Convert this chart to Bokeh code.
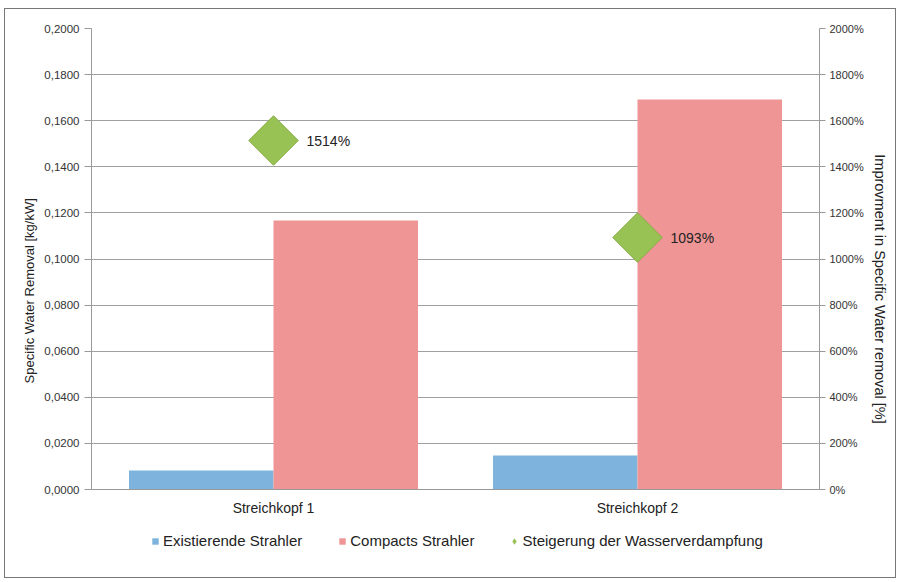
from bokeh.plotting import figure
from bokeh.models import (Range1d, LinearAxis, FixedTicker, CustomJSTickFormatter,
                          PrintfTickFormatter, Legend, LegendItem, ColumnDataSource, FactorRange)
from bokeh.transform import dodge
from bokeh.core.properties import value
from bokeh.embed import file_html
from bokeh.resources import INLINE
import math

# ---- data ----
categories = ["Streichkopf 1", "Streichkopf 2"]
existierende = [0.0082, 0.0148]
compacts = [0.1167, 0.1692]
steigerung = [1514, 1093]
steigerung_labels = ["1514%", "1093%"]
left_ticks = [0.0, 0.02, 0.04, 0.06, 0.08, 0.10, 0.12, 0.14, 0.16, 0.18, 0.20]
right_ticks = [0, 200, 400, 600, 800, 1000, 1200, 1400, 1600, 1800, 2000]
series_names = ["Existierende Strahler", "Compacts Strahler", "Steigerung der Wasserverdampfung"]

FONT = "Liberation Sans"
BLUE = "#7db3dc"
PINK = "#ef9595"
GREEN = "#98c254"

# plot area: 461 px for the value range, plus 60 px below zero reserved for the legend
FRAME_W, PLOT_H, EXTRA_H = 728, 461, 60
left_max, right_max = left_ticks[-1], right_ticks[-1]
left_min = -left_max * EXTRA_H / PLOT_H
right_min = -right_max * EXTRA_H / PLOT_H

src = ColumnDataSource(dict(cat=categories, ex=existierende, co=compacts,
                            st=steigerung, lab=steigerung_labels))

p = figure(frame_width=FRAME_W, frame_height=PLOT_H + EXTRA_H,
           x_range=FactorRange(*categories), y_range=Range1d(left_min, left_max),
           output_backend="svg", toolbar_location=None,
           min_border_left=86, min_border_right=76, min_border_top=19, min_border_bottom=28)
p.extra_y_ranges = {"pct": Range1d(right_min, right_max)}
p.outline_line_color = None
p.background_fill_color = "white"
p.border_fill_color = "white"
p.styles = {"border": "1px solid #777", "margin-left": "4px", "margin-top": "8px"}

bw = 0.397
p.vbar(x=dodge("cat", -bw / 2, range=p.x_range), top="ex", width=bw, source=src,
       fill_color=BLUE, line_color=None)
p.vbar(x=dodge("cat", bw / 2, range=p.x_range), top="co", width=bw, source=src,
       fill_color=PINK, line_color=None)
p.scatter(x="cat", y="st", source=src, y_range_name="pct", marker="square",
          size=35, angle=math.pi / 4, fill_color=GREEN, line_color="#86ad45")
p.text(x="cat", y="st", text="lab", source=src, y_range_name="pct", x_offset=33,
       text_font=value(FONT), text_font_size="14px", text_color="#222",
       text_baseline="middle", text_align="left")

# legend glyph stand-ins: zero-size markers on the same data (legend draws them small)
leg_ex = p.scatter(x=dodge("cat", -bw / 2, range=p.x_range), y="ex", source=src, size=0,
                   marker="square", fill_color=BLUE, line_color=None)
leg_co = p.scatter(x=dodge("cat", bw / 2, range=p.x_range), y="co", source=src, size=0,
                   marker="square", fill_color=PINK, line_color=None)
leg_st = p.scatter(x="cat", y="st", source=src, y_range_name="pct", size=0,
                   marker="diamond", fill_color=GREEN, line_color=None)

# grid
p.xgrid.grid_line_color = None
p.ygrid.grid_line_color = "#a0a0a0"
p.ygrid.ticker = FixedTicker(ticks=left_ticks)

# left axis
ya = p.yaxis[0]
ya.ticker = FixedTicker(ticks=left_ticks)
ya.bounds = (0, left_max)
ya.formatter = CustomJSTickFormatter(code="return tick.toFixed(4).replace('.', ',');")
ya.axis_label = "Specific Water Removal  [kg/kW]"
ya.axis_label_text_font = FONT
ya.axis_label_text_font_style = "normal"
ya.axis_label_text_font_size = "13px"
ya.axis_label_text_color = "#222"
ya.axis_label_standoff = 4
ya.major_label_text_font = FONT
ya.major_label_text_font_size = "11.5px"
ya.major_label_text_color = "#333"
ya.major_label_standoff = 5
ya.axis_line_color = "#999"
ya.major_tick_line_color = "#999"
ya.major_tick_out = 7
ya.major_tick_in = 0
ya.minor_tick_line_color = None

# right axis
ra = LinearAxis(y_range_name="pct", ticker=FixedTicker(ticks=right_ticks),
                formatter=PrintfTickFormatter(format="%d%%"), bounds=(0, right_max))
ra.axis_label = "Improvment in Specific Water removal [%]"
ra.axis_label_text_font = FONT
ra.axis_label_text_font_style = "normal"
ra.axis_label_text_font_size = "14.5px"
ra.axis_label_text_color = "#222"
ra.axis_label_standoff = 5
ra.major_label_text_font = FONT
ra.major_label_text_font_size = "11px"
ra.major_label_text_color = "#333"
ra.major_label_standoff = 4
ra.axis_line_color = "#999"
ra.major_tick_line_color = "#999"
ra.major_tick_out = 6
ra.major_tick_in = 0
ra.minor_tick_line_color = None
p.add_layout(ra, "right")

# x axis drawn along the zero line
xa = p.xaxis[0]
xa.fixed_location = 0
xa.axis_line_color = "#999"
xa.major_tick_line_color = None
xa.major_label_text_font = FONT
xa.major_label_text_font_size = "14px"
xa.major_label_text_color = "#222"
xa.major_label_standoff = 4

legend = Legend(items=[LegendItem(label=series_names[0], renderers=[leg_ex]),
                       LegendItem(label=series_names[1], renderers=[leg_co]),
                       LegendItem(label=series_names[2], renderers=[leg_st])],
                location=(56, 0), orientation="horizontal", padding=0, margin=0,
                spacing=32, glyph_width=16, glyph_height=16, label_standoff=0,
                label_height=16, label_text_font=FONT, label_text_font_size="15px",
                label_text_color="#222", label_text_baseline="middle",
                border_line_color=None, background_fill_alpha=0)
p.add_layout(legend, "center")

open("out.html", "w").write(file_html(p, INLINE))
